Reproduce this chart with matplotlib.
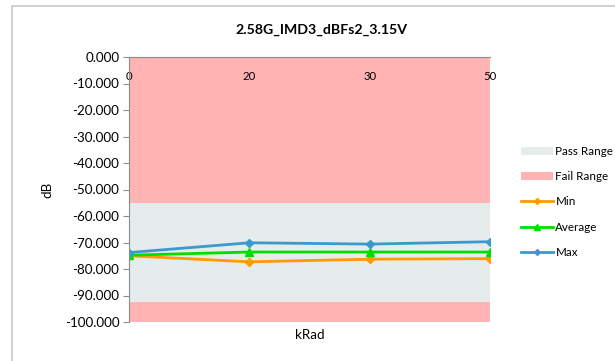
import matplotlib.pyplot as plt
from matplotlib.lines import Line2D
from matplotlib.patches import Patch, Rectangle

# chart data
categories = ["0", "20", "30", "50"]
min_db = [-75.0, -77.3, -76.3, -76.1]
avg_db = [-74.8, -73.6, -73.6, -73.6]
max_db = [-73.8, -70.1, -70.6, -69.7]
pass_high = -55.0
pass_low = -92.4
y_ticks = [0, -10, -20, -30, -40, -50, -60, -70, -80, -90, -100]

TITLE = "2.58G_IMD3_dBFs2_3.15V"
FAIL_COLOR = "#FFB3B3"
PASS_COLOR = "#E6EBEB"
MIN_COLOR = "#FF9A00"
AVG_COLOR = "#00DD00"
MAX_COLOR = "#3A9AD0"

plt.rcParams["font.family"] = ["Lato", "DejaVu Sans"]

fig = plt.figure(figsize=(6.15, 3.61), dpi=100)
ax = fig.add_axes([129 / 615, 1 - 322 / 361, 361 / 615, 265 / 361])

x = list(range(len(categories)))
ymin, ymax = y_ticks[-1], y_ticks[0]

# pass / fail bands
ax.fill_between(x, pass_high, ymax, color=FAIL_COLOR, lw=0, zorder=1)
ax.fill_between(x, ymin, pass_low, color=FAIL_COLOR, lw=0, zorder=1)
ax.fill_between(x, pass_low, pass_high, color=PASS_COLOR, lw=0, zorder=1)

ax.plot(x, min_db, color=MIN_COLOR, lw=2.0, marker="D", ms=4, zorder=3)
ax.plot(x, avg_db, color=AVG_COLOR, lw=2.0, marker="^", ms=6, zorder=4)
ax.plot(x, max_db, color=MAX_COLOR, lw=2.0, marker="D", ms=4, zorder=5)

ax.set_xlim(x[0], x[-1])
ax.set_ylim(ymin, ymax)
ax.set_yticks(y_ticks)
ax.set_yticklabels([f"{v:.3f}" for v in y_ticks])
ax.set_xticks(x)
ax.set_xticklabels(categories)

for side in ["right", "bottom"]:
    ax.spines[side].set_visible(False)
for side in ["left", "top"]:
    ax.spines[side].set_color("#8C8C8C")
    ax.spines[side].set_linewidth(0.8)
    ax.spines[side].set_zorder(6)

ax.tick_params(axis="y", length=4, color="#8C8C8C", labelsize=9.6, pad=3)
ax.tick_params(axis="x", top=True, bottom=False, labeltop=True, labelbottom=False,
               length=0, pad=-18, labelsize=8.2)

ax.set_ylabel("dB", fontsize=9.6, labelpad=8)
fig.text(310 / 615, 1 - 335 / 361, "kRad", fontsize=9.6, ha="center", va="center")
fig.text(321 / 615, 1 - 30 / 361, TITLE, fontsize=10.2, fontweight="bold",
         ha="center", va="center")

handles = [
    Patch(facecolor=PASS_COLOR, edgecolor="none"),
    Patch(facecolor=FAIL_COLOR, edgecolor="none"),
    Line2D([], [], color=MIN_COLOR, lw=2.0, marker="D", ms=3),
    Line2D([], [], color=AVG_COLOR, lw=2.0, marker="^", ms=5),
    Line2D([], [], color=MAX_COLOR, lw=2.0, marker="D", ms=3),
]
labels = ["Pass Range", "Fail Range", "Min", "Average", "Max"]
fig.legend(handles, labels, loc="upper left",
           bbox_to_anchor=(521 / 615, 1 - 146 / 361), frameon=False,
           fontsize=8.4, handlelength=2.75, handletextpad=0.2,
           labelspacing=1.22, borderpad=0, borderaxespad=0)

# chart-area border (only top and left edges are visible in the crop)
fig.add_artist(Rectangle((12 / 615, -0.1), 1.2, 1 - 6 / 361 + 0.1,
                         transform=fig.transFigure, fill=False,
                         edgecolor="#C8C8C8", lw=1.2))

fig.savefig("out.png", dpi=100)
